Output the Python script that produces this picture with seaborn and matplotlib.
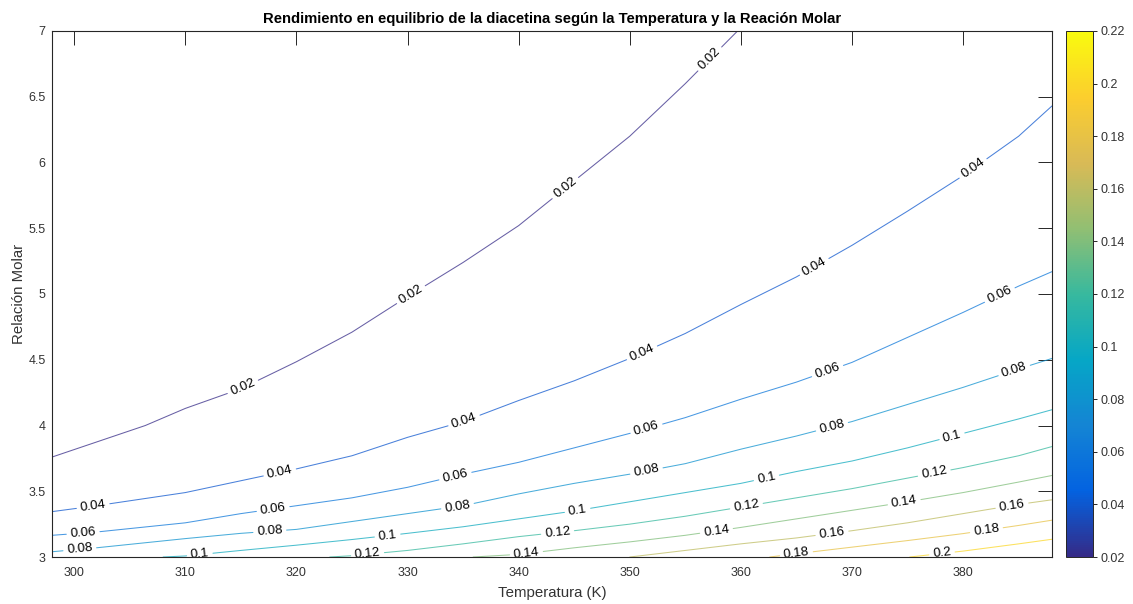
import numpy as np
import pandas as pd
import matplotlib
matplotlib.use("Agg")
import matplotlib.pyplot as plt
import seaborn as sns
from matplotlib.colors import LinearSegmentedColormap, Normalize
from matplotlib.cm import ScalarMappable

# ---- contour lines of equilibrium yield: temperature (K) vs molar ratio ----
levels = [0.02, 0.04, 0.06, 0.08, 0.10, 0.12, 0.14, 0.16, 0.18, 0.20]

temp_002 = [298, 306.4, 310, 315, 320, 325, 330, 335, 340, 345, 350, 355, 359.7]
molar_002 = [3.76, 4.0, 4.13, 4.28, 4.485, 4.71, 4.98, 5.24, 5.52, 5.86, 6.2, 6.6, 7.0]

temp_004 = [298, 302, 306, 310, 315, 320, 325, 330, 335, 340, 345, 350, 355, 360, 365, 370, 375, 380, 385, 388]
molar_004 = [3.345, 3.39, 3.44, 3.49, 3.58, 3.67, 3.77, 3.91, 4.03, 4.19, 4.34, 4.51, 4.7, 4.92, 5.13, 5.37, 5.63, 5.9, 6.2, 6.43]

temp_006 = [298, 302, 306, 310, 315, 320, 325, 330, 335, 340, 345, 350, 355, 360, 365, 370, 375, 380, 385, 388]
molar_006 = [3.165, 3.19, 3.225, 3.26, 3.33, 3.39, 3.45, 3.53, 3.63, 3.72, 3.83, 3.94, 4.06, 4.2, 4.33, 4.48, 4.67, 4.86, 5.06, 5.17]

temp_008 = [298, 302, 306, 310, 315, 320, 325, 330, 335, 340, 345, 350, 355, 360, 365, 370, 375, 380, 385, 388]
molar_008 = [3.04, 3.07, 3.105, 3.14, 3.18, 3.21, 3.27, 3.33, 3.39, 3.48, 3.56, 3.63, 3.71, 3.82, 3.92, 4.03, 4.16, 4.29, 4.43, 4.51]

temp_010 = [308.0, 310, 315, 320, 325, 330, 335, 340, 345, 350, 355, 360, 365, 370, 375, 380, 385, 388]
molar_010 = [3.0, 3.008, 3.05, 3.09, 3.133, 3.18, 3.23, 3.29, 3.35, 3.42, 3.49, 3.56, 3.65, 3.73, 3.83, 3.94, 4.05, 4.12]

temp_012 = [323, 325, 330, 335, 340, 345, 350, 355, 360, 365, 370, 375, 380, 385, 388]
molar_012 = [3.0, 3.01, 3.05, 3.1, 3.155, 3.2, 3.25, 3.31, 3.38, 3.45, 3.52, 3.6, 3.68, 3.77, 3.84]

temp_014 = [335.9, 340, 345, 350, 355, 360, 365, 370, 375, 380, 385, 388]
molar_014 = [3.0, 3.02, 3.07, 3.115, 3.165, 3.225, 3.29, 3.355, 3.42, 3.49, 3.57, 3.62]

temp_016 = [350, 355, 360, 365, 370, 375, 380, 385, 388]
molar_016 = [3.0, 3.05, 3.1, 3.145, 3.2, 3.26, 3.33, 3.4, 3.435]

temp_018 = [362.6, 365, 370, 375, 380, 385, 388]
molar_018 = [3.0, 3.025, 3.075, 3.125, 3.178, 3.24, 3.28]

temp_020 = [375.2, 380, 385, 388]
molar_020 = [3.0, 3.045, 3.1, 3.135]

# temperatures at which each contour carries an inline label
label_t_002 = [315.2, 330.3, 344.2, 357.2]
label_t_004 = [301.7, 318.5, 335.1, 351.1, 366.6, 380.9]
label_t_006 = [300.8, 317.9, 334.3, 351.5, 367.8, 383.3]
label_t_008 = [300.5, 317.6, 334.5, 351.5, 368.2, 384.6]
label_t_010 = [311.3, 328.2, 345.3, 362.3, 379.0]
label_t_012 = [326.4, 343.5, 360.5, 377.4]
label_t_014 = [340.7, 357.8, 374.7]
label_t_016 = [368.2, 384.4]
label_t_018 = [365.0, 382.1]
label_t_020 = [378.1]

x_ticks = [300, 310, 320, 330, 340, 350, 360, 370, 380]
y_ticks = [3, 3.5, 4, 4.5, 5, 5.5, 6, 6.5, 7]
cbar_ticks = [0.02, 0.04, 0.06, 0.08, 0.10, 0.12, 0.14, 0.16, 0.18, 0.20, 0.22]

contours = [
    (0.02, temp_002, molar_002, label_t_002),
    (0.04, temp_004, molar_004, label_t_004),
    (0.06, temp_006, molar_006, label_t_006),
    (0.08, temp_008, molar_008, label_t_008),
    (0.10, temp_010, molar_010, label_t_010),
    (0.12, temp_012, molar_012, label_t_012),
    (0.14, temp_014, molar_014, label_t_014),
    (0.16, temp_016, molar_016, label_t_016),
    (0.18, temp_018, molar_018, label_t_018),
    (0.20, temp_020, molar_020, label_t_020),
]

# parula-like colormap
parula_pts = [
    (0.2081, 0.1663, 0.5292), (0.0117, 0.3875, 0.8820), (0.0793, 0.5200, 0.8312),
    (0.0228, 0.6535, 0.7768), (0.2178, 0.7250, 0.6193), (0.5709, 0.7485, 0.4494),
    (0.8507, 0.7299, 0.3360), (0.9880, 0.8066, 0.1794), (0.9763, 0.9831, 0.0538),
]
parula = LinearSegmentedColormap.from_list(
    "parula", list(zip(np.linspace(0, 1, len(parula_pts)), parula_pts)))
norm = Normalize(vmin=0.02, vmax=0.22)

sns.set_theme(style="white")
plt.rcParams["font.family"] = ["Liberation Sans", "DejaVu Sans"]

fig = plt.figure(figsize=(11.33, 6.04), dpi=100)
ax = fig.add_axes([0.0459, 0.0778, 0.8826, 0.8709])
cax = fig.add_axes([0.9409, 0.0778, 0.0234, 0.8709])
XLIM, YLIM = (298, 388), (3, 7)
ax.set_xlim(*XLIM)
ax.set_ylim(*YLIM)

fig.canvas.draw()
renderer = fig.canvas.get_renderer()
LABEL_SIZE = 9.5

rows, label_specs = [], []
seg_id = 0
for lev, T, R, lab_t in contours:
    T = np.asarray(T, float)
    R = np.asarray(R, float)
    P = ax.transData.transform(np.column_stack([T, R]))
    s = np.concatenate([[0.0], np.cumsum(np.hypot(np.diff(P[:, 0]), np.diff(P[:, 1])))])
    txt = f"{lev:g}"
    probe = ax.text(0, 0, txt, fontsize=LABEL_SIZE)
    half = probe.get_window_extent(renderer).width / 2 + 4
    probe.remove()
    cuts = []
    for tl in lab_t:
        s0 = np.interp(tl, T, s)
        cuts.append((s0 - half, s0 + half))
        xs = np.interp([s0 - half * 0.8, s0 + half * 0.8], s, P[:, 0])
        ys = np.interp([s0 - half * 0.8, s0 + half * 0.8], s, P[:, 1])
        ang = np.degrees(np.arctan2(ys[1] - ys[0], xs[1] - xs[0]))
        label_specs.append((tl, np.interp(tl, T, R), txt, ang))
    # pieces of the line that stay visible between labels
    kept, start = [], 0.0
    for c0, c1 in sorted(cuts):
        if c0 > start:
            kept.append((start, c0))
        start = max(start, c1)
    if start < s[-1]:
        kept.append((start, s[-1]))
    for a, b in kept:
        inner = (s > a) & (s < b)
        ss = np.concatenate([[a], s[inner], [b]])
        for t_, r_ in zip(np.interp(ss, s, T), np.interp(ss, s, R)):
            rows.append({"T": t_, "R": r_, "level": lev, "seg": seg_id})
        seg_id += 1

df = pd.DataFrame(rows)
palette = {lev: parula(norm(lev)) for lev in levels}
sns.lineplot(data=df, x="T", y="R", hue="level", units="seg", estimator=None,
             sort=False, palette=palette, legend=False, linewidth=0.75,
             alpha=0.75, ax=ax)

for tl, rl, txt, ang in label_specs:
    ax.text(tl, rl, txt, fontsize=LABEL_SIZE, rotation=ang, rotation_mode="anchor",
            ha="center", va="center", color="black", clip_on=True)

ax.set_xlim(*XLIM)
ax.set_ylim(*YLIM)
ax.set_xticks(x_ticks)
ax.set_xticklabels([f"{v:g}" for v in x_ticks])
ax.set_yticks(y_ticks)
ax.set_yticklabels([f"{v:g}" for v in y_ticks])
ax.tick_params(axis="both", direction="in", length=10, width=0.7, color="#262626",
               labelcolor="#333333", labelsize=9, top=True, right=True)
ax.tick_params(axis="x", pad=7)
ax.tick_params(axis="y", pad=4.5)
for sp in ax.spines.values():
    sp.set_color("#262626")
    sp.set_linewidth(0.8)

ax.set_xlabel("Temperatura (K)", fontsize=10.8, color="#333333", labelpad=5)
ax.set_ylabel("Relación Molar", fontsize=10.8, color="#333333", labelpad=2)
ax.set_title("Rendimiento en equilibrio de la diacetina según la Temperatura y la Reación Molar",
             fontsize=10.7, fontweight="bold", color="black", pad=6)

sm = ScalarMappable(norm=norm, cmap=parula)
cb = fig.colorbar(sm, cax=cax, ticks=cbar_ticks)
cb.ax.set_yticklabels([f"{round(v, 2):g}" for v in cbar_ticks])
cb.ax.tick_params(direction="out", length=3, width=0.7, color="#262626",
                  labelcolor="#333333", labelsize=9, pad=3)
cb.outline.set_edgecolor("#262626")
cb.outline.set_linewidth(0.7)

fig.savefig("out.png", dpi=100)
